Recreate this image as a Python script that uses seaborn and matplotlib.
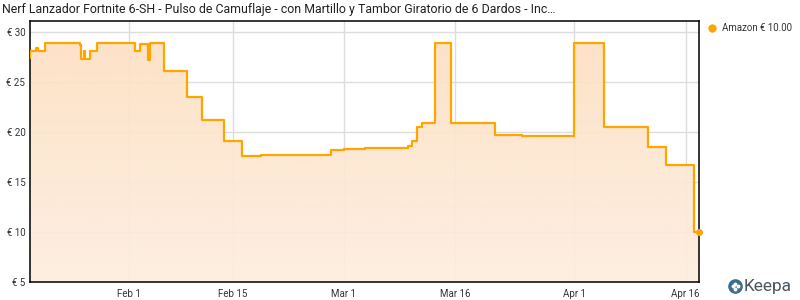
import numpy as np
import pandas as pd
import matplotlib
matplotlib.use("Agg")
import matplotlib.pyplot as plt
import matplotlib.dates as mdates
import seaborn as sns
from matplotlib.colors import LinearSegmentedColormap

title = "Nerf Lanzador Fortnite 6-SH - Pulso de Camuflaje - con Martillo y Tambor Giratorio de 6 Dardos - Inc…"

dates = [
    "2024-01-18 16:00", "2024-01-18 18:30", "2024-01-19 11:30", "2024-01-19 18:00",
    "2024-01-20 16:30", "2024-01-25 10:00", "2024-01-25 14:10", "2024-01-25 22:30",
    "2024-01-26 03:00", "2024-01-26 20:30", "2024-01-27 18:00", "2024-02-01 21:40",
    "2024-02-02 13:40", "2024-02-03 16:30", "2024-02-03 21:00", "2024-02-05 20:00",
    "2024-02-08 20:40", "2024-02-10 22:00", "2024-02-13 20:10", "2024-02-16 07:10",
    "2024-02-18 19:40", "2024-02-28 06:40", "2024-03-01 00:40", "2024-03-03 20:40",
    "2024-03-04 18:15", "2024-03-09 16:30", "2024-03-10 03:20", "2024-03-10 21:40",
    "2024-03-11 13:40", "2024-03-13 07:40", "2024-03-15 09:20", "2024-03-21 09:20",
    "2024-03-24 23:45", "2024-03-31 22:50", "2024-04-04 23:30", "2024-04-10 22:50",
    "2024-04-13 09:50", "2024-04-17 03:20", "2024-04-17 19:25",
]
prices = [
    27.40, 28.10, 28.37, 28.10,
    28.87, 28.70, 27.27, 28.10,
    27.27, 28.10, 28.87, 28.03,
    28.75, 27.20, 28.87, 26.10,
    23.50, 21.20, 19.10, 17.63,
    17.66, 18.23, 18.33, 18.37,
    18.43, 18.60, 19.10, 20.50,
    20.90, 28.87, 20.90, 19.70,
    19.55, 28.87, 20.50, 18.53,
    16.67, 10.03, 10.00,
]
tick_dates = ["2024-02-01", "2024-02-15", "2024-03-01", "2024-03-16", "2024-04-01", "2024-04-16"]
tick_labels = ["Feb 1", "Feb 15", "Mar 1", "Mar 16", "Apr 1", "Apr 16"]
y_ticks = [5, 10, 15, 20, 25, 30]
y_labels = ["€ 5", "€ 10", "€ 15", "€ 20", "€ 25", "€ 30"]
legend_label = "Amazon € 10.00"

df = pd.DataFrame({"date": pd.to_datetime(dates), "price": prices})

sns.set_theme(style="white")
plt.rcParams["font.family"] = ["Roboto", "DejaVu Sans"]

fig = plt.figure(figsize=(8, 3), dpi=100)
ax = fig.add_axes([29.5 / 800, 18 / 300, (699 - 29.5) / 800, (282 - 21) / 300])

ORANGE = "#ffa500"
ymin, ymax = 5, 31.07

# gradient fill under the step line
poly = ax.fill_between(df["date"], df["price"], ymin, step="post", color="none", zorder=1)
x0 = mdates.date2num(df["date"].iloc[0])
x1 = mdates.date2num(df["date"].iloc[-1])
cmap = LinearSegmentedColormap.from_list("g", ["#fdeee0", "#fde0c2"])
grad = np.linspace(0, 1, 256).reshape(-1, 1)
im = ax.imshow(grad, cmap=cmap, origin="lower", aspect="auto",
               extent=[x0, x1, ymin, 29.2], zorder=1, alpha=0.92)
im.set_clip_path(poly.get_paths()[0], transform=ax.transData)

sns.lineplot(data=df, x="date", y="price", ax=ax, color=ORANGE, linewidth=1.6,
             drawstyle="steps-post", estimator=None, zorder=3)
ax.plot(df["date"].iloc[-1:], df["price"].iloc[-1:], "o", color=ORANGE,
        markersize=4, zorder=4, clip_on=False)

ax.set_xlim(df["date"].iloc[0], df["date"].iloc[-1])
ax.set_ylim(ymin, ymax)
ax.set_xticks(pd.to_datetime(tick_dates))
ax.set_xticklabels(tick_labels)
ax.set_yticks(y_ticks)
ax.set_yticklabels(y_labels)
ax.set_xlabel("")
ax.set_ylabel("")
ax.grid(True, color="#dddddd", linewidth=1, zorder=0)
ax.set_axisbelow(True)
ax.tick_params(axis="both", length=0, labelsize=7, colors="#333333")
ax.tick_params(axis="x", pad=5)
ax.tick_params(axis="y", pad=3)
for s in ax.spines.values():
    s.set_visible(True)
    s.set_color("#000000")
    s.set_linewidth(1.1)
ax.set_facecolor("white")

fig.text(2 / 800, 1 - 10 / 300, title, fontsize=8.9, color="#222222",
         ha="left", va="center")

# legend
fig.add_artist(plt.Line2D([712 / 800], [1 - 28 / 300], marker="o", color=ORANGE,
                          markersize=5, linestyle="none", transform=fig.transFigure))
fig.text(722 / 800, 1 - 28 / 300, legend_label, fontsize=7, color="#333333",
         ha="left", va="center")

# Keepa logo
cx, cy = 735, 286
fig.add_artist(plt.Line2D([cx / 800], [1 - cy / 300], marker="o", color="#3d6d8a",
                          markersize=9.5, linestyle="none", transform=fig.transFigure))
for dx, dy in [(-2.5, 0), (2.5, 0), (0, -2.5), (0, 2.5)]:
    fig.add_artist(plt.Line2D([(cx + dx) / 800], [1 - (cy + dy) / 300], marker="o",
                              color="white", markersize=1.8, linestyle="none",
                              transform=fig.transFigure))
fig.text(744 / 800, 1 - 286 / 300, "Keepa", fontsize=12.5, color="#4a5560",
         ha="left", va="center")

fig.savefig("out.png", dpi=100)
